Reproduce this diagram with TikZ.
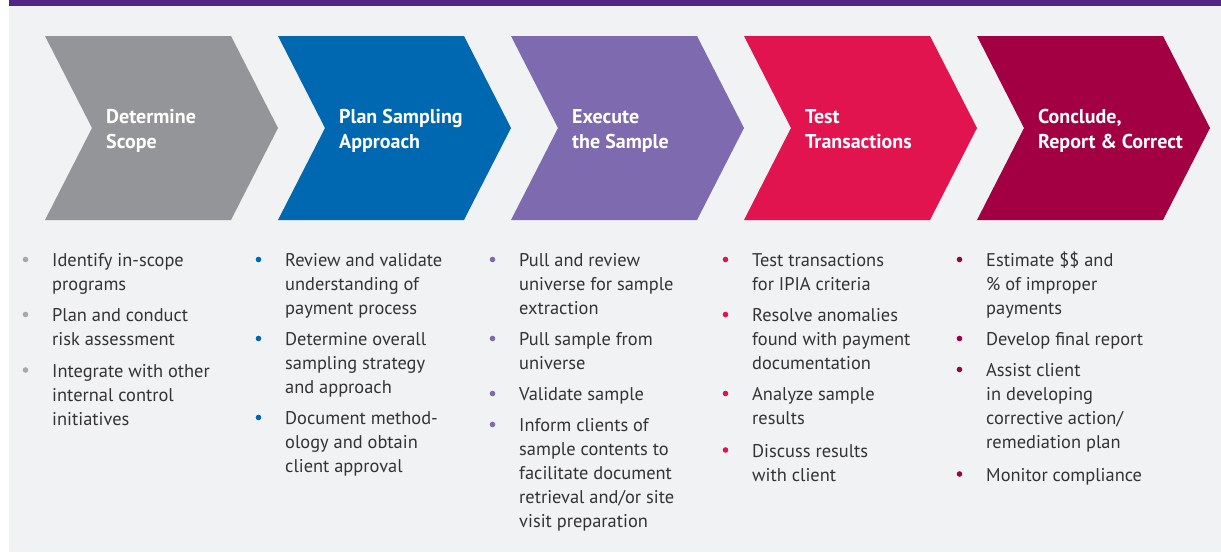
\documentclass[tikz,border=0pt]{standalone}
\usepackage{fontspec}
\setmainfont{PT Sans}
\definecolor{ppBar}{HTML}{532683}
\definecolor{ppBack}{HTML}{F1F2F4}
\definecolor{ppGray}{HTML}{939598}
\definecolor{ppDot}{HTML}{A7A9AC}
\definecolor{ppBlue}{HTML}{0067B1}
\definecolor{ppPurple}{HTML}{7D6AAF}
\definecolor{ppRed}{HTML}{E2144F}
\definecolor{ppWine}{HTML}{A30043}
\definecolor{ppText}{HTML}{333333}
\tikzset{
  pp chevron/.style={fill=#1, draw=none},
  pp title/.style={anchor=north west, align=left, inner sep=0pt, text=white,
    font=\fontsize{20}{25}\selectfont\bfseries},
  pp item/.style={anchor=north west, align=left, inner sep=0pt, text=ppText,
    font=\fontsize{18.4}{24}\selectfont},
}

\begin{document}
\begin{tikzpicture}[x=1pt, y=-1pt]
  % Page: white margin, purple rule on top, grey panel
  \useasboundingbox (0,0) rectangle (1221,552);
  \fill[ppBack] (9,6) rectangle (1221,552);
  \fill[ppBar] (9,0) rectangle (1221,6);

  % Five process steps as chevrons, 233 apart
  \foreach \i/\col/\tag/\title in {
      0/ppGray/scope/{Determine\\Scope},
      1/ppBlue/plan/{Plan Sampling\\Approach},
      2/ppPurple/exec/{Execute\\the Sample},
      3/ppRed/test/{Test\\Transactions},
      4/ppWine/report/{Conclude,\\Report \& Correct}} {
    \pgfmathsetmacro{\xo}{45+233*\i}
    \fill[pp chevron=\col] (\xo,36) -- (\xo+186,36) -- (\xo+233,128)
      -- (\xo+186,220) -- (\xo,220) -- (\xo+47,128) -- cycle;
    \node[pp title] (t-\tag) at (\xo+61,109.5) {\title};
  }

  % Step 1 items (top of node = first baseline - 13)
  \node[pp item] (s1a) at (52,253.5) {Identify in-scope\\programs};
  \node[pp item] (s1b) at (52,308.5) {Plan and conduct\\risk assessment};
  \node[pp item] (s1c) at (52,364) {Integrate with other\\internal control\\initiatives};

  % Step 2 items
  \node[pp item] (s2a) at (285,253.5) {Review and validate\\understanding of\\payment process};
  \node[pp item] (s2b) at (285,332.5) {Determine overall\\sampling strategy\\and approach};
  \node[pp item] (s2c) at (285,411.5) {Document method-\\ology and obtain\\client approval};

  % Step 3 items
  \node[pp item] (s3a) at (519,253.5) {Pull and review\\universe for sample\\extraction};
  \node[pp item] (s3b) at (519,332.5) {Pull sample from\\universe};
  \node[pp item] (s3c) at (519,387.5) {Validate sample};
  \node[pp item] (s3d) at (519,418.5) {Inform clients of\\sample contents to\\facilitate document\\retrieval and/or site\\visit preparation};

  % Step 4 items
  \node[pp item] (s4a) at (752,253.5) {Test transactions\\for IPIA criteria};
  \node[pp item] (s4b) at (752,308.5) {Resolve anomalies\\found with payment\\documentation};
  \node[pp item] (s4c) at (752,387.5) {Analyze sample\\results};
  \node[pp item] (s4d) at (752,444) {Discuss results\\with client};

  % Step 5 items (the dollar signs stand a little taller)
  \node[pp item] (s5a) at (986,252) {Estimate \$\$ and\\\% of improper\\payments};
  \node[pp item] (s5b) at (986,332.5) {Develop final report};
  \node[pp item] (s5c) at (986,363.5) {Assist client\\in developing\\corrective action/\\remediation plan};
  \node[pp item] (s5d) at (986,468) {Monitor compliance};

  % Bullets in front of the first line of each item
  \foreach \n/\col in {s1a/ppDot,s1b/ppDot,s1c/ppDot,
      s2a/ppBlue,s2b/ppBlue,s2c/ppBlue,
      s3a/ppPurple,s3b/ppPurple,s3c/ppPurple,s3d/ppPurple,
      s4a/ppRed,s4b/ppRed,s4c/ppRed,s4d/ppRed,
      s5b/ppWine,s5c/ppWine,s5d/ppWine}
    \fill[\col] ([shift={(-26.5pt,-6pt)}]\n.north west) circle (2.8pt);
  \fill[ppWine] ([shift={(-26.5pt,-7.5pt)}]s5a.north west) circle (2.8pt);
\end{tikzpicture}
\end{document}
